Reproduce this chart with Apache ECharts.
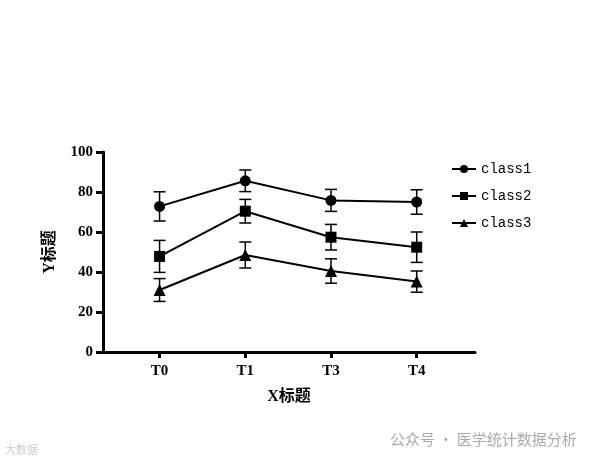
<!DOCTYPE html>
<html><head><meta charset="utf-8">
<script src="https://cdn.jsdelivr.net/npm/echarts@6/dist/echarts.min.js"></script>
<style>html,body{margin:0;padding:0;background:#fff}#c{width:611px;height:465px}</style>
</head><body><div id="c"></div>
<script>
const categories = ['T0', 'T1', 'T3', 'T4'];
const seriesNames = ['class1', 'class2', 'class3'];
const class1 = [72.8, 85.6, 75.8, 75.0];
const class1Err = [7.3, 5.4, 5.5, 6.1];
const class2 = [47.8, 70.4, 57.4, 52.4];
const class2Err = [8.0, 5.9, 6.4, 7.6];
const class3 = [31.0, 48.5, 40.5, 35.2];
const class3Err = [5.7, 6.5, 6.1, 5.3];
const yTicks = [0, 20, 40, 60, 80, 100];

const means = [class1, class2, class3];
const errs = [class1Err, class2Err, class3Err];
const symbols = ['circle', 'rect', 'triangle'];
const symbolSizes = [11, 11, 12];

const chart = echarts.init(document.getElementById('c'));
const series = [];
means.forEach((m, k) => {
  series.push({
    type: 'custom',
    silent: true,
    z: 3,
    data: m.map((v, i) => [i, v - errs[k][i], v + errs[k][i]]),
    renderItem: function (params, api) {
      const x = api.value(0);
      const lo = api.coord([x, api.value(1)]);
      const hi = api.coord([x, api.value(2)]);
      const w = 6;
      const st = { stroke: '#000', lineWidth: 1.5, fill: null };
      return { type: 'group', children: [
        { type: 'line', shape: { x1: lo[0], y1: lo[1], x2: hi[0], y2: hi[1] }, style: st },
        { type: 'line', shape: { x1: lo[0] - w, y1: lo[1], x2: lo[0] + w, y2: lo[1] }, style: st },
        { type: 'line', shape: { x1: hi[0] - w, y1: hi[1], x2: hi[0] + w, y2: hi[1] }, style: st }
      ]};
    }
  });
  series.push({
    name: seriesNames[k],
    type: 'line',
    z: 4,
    data: m.map((v, i) => [i, v]),
    symbol: symbols[k],
    symbolSize: symbolSizes[k],
    showAllSymbol: true,
    lineStyle: { color: '#000', width: 2 },
    itemStyle: { color: '#000' },
    emphasis: { disabled: true }
  });
});

chart.setOption({
  animation: false,
  backgroundColor: '#fff',
  grid: { left: 103, right: 136, top: 152, bottom: 113, containLabel: false },
  legend: {
    data: seriesNames,
    orient: 'vertical',
    left: 446, top: 157,
    itemWidth: 24, itemHeight: 10, itemGap: 13,
    textStyle: { fontFamily: 'Liberation Mono', fontSize: 14, color: '#000' }
  },
  xAxis: {
    type: 'value',
    min: -0.66, max: 3.68,
    name: 'X标题', nameLocation: 'middle', nameGap: 37,
    nameTextStyle: { fontFamily: 'Liberation Serif, Noto Sans CJK SC', fontWeight: 'bold', fontSize: 16, color: '#000' },
    splitLine: { show: false },
    axisLine: { show: true, onZero: false, lineStyle: { color: '#000', width: 3 } },
    axisTick: { show: true, customValues: [0, 1, 2, 3], length: 6, lineStyle: { color: '#000', width: 3 } },
    axisLabel: { customValues: [0, 1, 2, 3], formatter: v => categories[Math.round(v)], margin: 12,
      fontFamily: 'Liberation Serif', fontWeight: 'bold', fontSize: 15, color: '#000' }
  },
  yAxis: {
    type: 'value', min: 0, max: 100, interval: 20,
    name: 'Y标题', nameLocation: 'middle', nameGap: 45, nameRotate: 90,
    nameTextStyle: { fontFamily: 'Liberation Serif, Noto Sans CJK SC', fontWeight: 'bold', fontSize: 16, color: '#000' },
    splitLine: { show: false },
    axisLine: { show: true, onZero: false, lineStyle: { color: '#000', width: 3 } },
    axisTick: { show: true, length: 7, lineStyle: { color: '#000', width: 3 } },
    axisLabel: { margin: 10, formatter: v => yTicks.includes(v) ? String(v) : '',
      fontFamily: 'Liberation Serif', fontWeight: 'bold', fontSize: 15, color: '#000' }
  },
  graphic: [
    { type: 'text', left: 390, top: 432, style: { text: '公众号 · 医学统计数据分析', fontFamily: 'Noto Sans CJK SC', fontSize: 15, fill: '#aaa' } },
    { type: 'text', left: 5, top: 444, style: { text: '大数据', fontFamily: 'Noto Sans CJK SC', fontSize: 11, fill: '#ccc' } }
  ],
  series: series
});
</script></body></html>
